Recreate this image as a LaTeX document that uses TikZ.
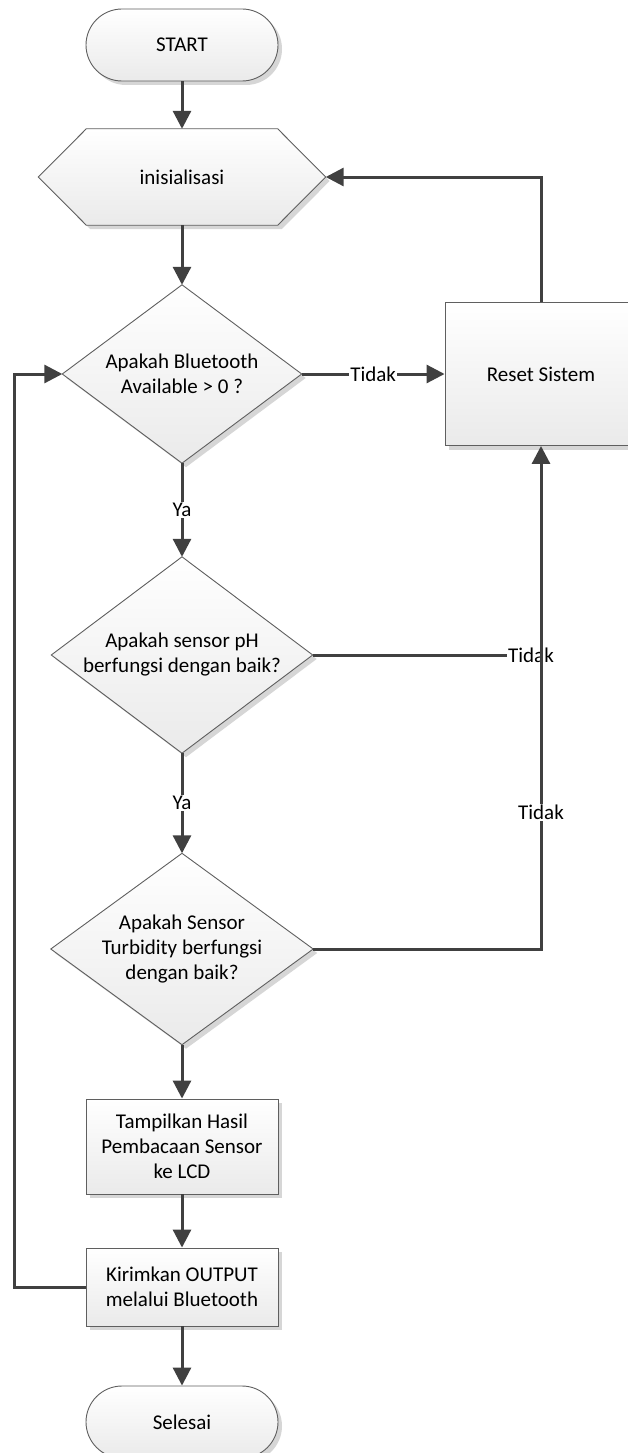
\documentclass[tikz,border=0pt]{standalone}
\usepackage{fontspec}
\setmainfont{Carlito}
\usetikzlibrary{arrows.meta,shadows,backgrounds}

\definecolor{edgegray}{HTML}{5F5F5F}
\definecolor{linegray}{HTML}{404040}
\definecolor{shadegray}{HTML}{EAEAEA}
\definecolor{shadowgray}{HTML}{D6D6D6}

\tikzset{
  every node/.style={font=\fontsize{21}{25}\selectfont, align=center, text=black},
  softshadow/.style={drop shadow={shadow xshift=4pt, shadow yshift=-4pt, fill=shadowgray, opacity=1}},
  shapebody/.style={draw=edgegray, line width=0.9pt, top color=white, bottom color=shadegray, softshadow},
  terminal/.style={shapebody, rectangle, rounded corners=36pt, minimum width=192pt, minimum height=72pt, inner sep=0pt},
  procbox/.style={shapebody, rectangle, minimum width=192pt, inner sep=0pt},
  frame/.style={rectangle, inner sep=0pt},
  conn/.style={draw=linegray, line width=3pt, -{Triangle[length=18pt,width=18pt]}},
  connline/.style={draw=linegray, line width=3pt},
  answer/.style={fill=white, inner sep=1pt},
}

\begin{document}
\begin{tikzpicture}[x=1pt,y=-1pt]
\useasboundingbox (0,0) rectangle (628,1453);
\clip (0,0) rectangle (628,1453);

% flowchart steps
\node[terminal] (start) at (182,45) {START};
\node[frame, minimum width=287pt, minimum height=96pt] (init) at (182,177) {inisialisasi};
\node[frame, minimum width=239pt, minimum height=178pt] (d1) at (182,374) {Apakah Bluetooth\\Available > 0 ?};
\node[procbox, minimum height=143pt] (reset) at (541,374) {Reset Sistem};
\node[frame, minimum width=261pt, minimum height=196pt] (d2) at (182,655) {Apakah sensor pH\\berfungsi dengan baik?};
\node[frame, minimum width=262pt, minimum height=191pt] (d3) at (182,949) {Apakah Sensor\\Turbidity berfungsi\\dengan baik?};
\node[procbox, minimum height=95pt] (show) at (182,1146.5) {Tampilkan Hasil\\Pembacaan Sensor\\ke LCD};
\node[procbox, minimum height=78pt] (send) at (182,1287) {Kirimkan OUTPUT\\melalui Bluetooth};
\node[terminal] (stop) at (182,1422) {Selesai};

% outlines of the preparation hexagon and the decision diamonds
\begin{pgfonlayer}{background}
  \path[shapebody] (init.west) -- ([xshift=48pt]init.north west) -- ([xshift=-48pt]init.north east)
     -- (init.east) -- ([xshift=-48pt]init.south east) -- ([xshift=48pt]init.south west) -- cycle;
  \foreach \d in {d1,d2,d3}
    \path[shapebody] (\d.north) -- (\d.east) -- (\d.south) -- (\d.west) -- cycle;
\end{pgfonlayer}

% main flow
\draw[conn] (start.south) -- (init.north);
\draw[conn] (init.south) -- (d1.north);
\draw[conn] (d1.east) -- node[answer] {Tidak} (reset.west);
\draw[conn] (d1.south) -- node[answer] {Ya} (d2.north);
\draw[conn] (d2.south) -- node[answer] {Ya} (d3.north);
\draw[conn] (d3.south) -- (show.north);
\draw[conn] (show.south) -- (send.north);
\draw[conn] (send.south) -- (stop.north);

% reset returns to initialisation
\draw[conn] (reset.north) |- (init.east);

% loop back to the bluetooth check
\coordinate (loopcorner) at (14,1287);
\draw[conn] (send.west) -- (loopcorner) |- (d1.west);

% failed sensor checks lead to reset
\node[answer] (t2) at (531,655) {Tidak};
\draw[connline] (d2.east) -- (t2.west);
\draw[conn] (d3.east) -| node[answer, pos=0.636] {Tidak} (reset.south);
\end{tikzpicture}
\end{document}
